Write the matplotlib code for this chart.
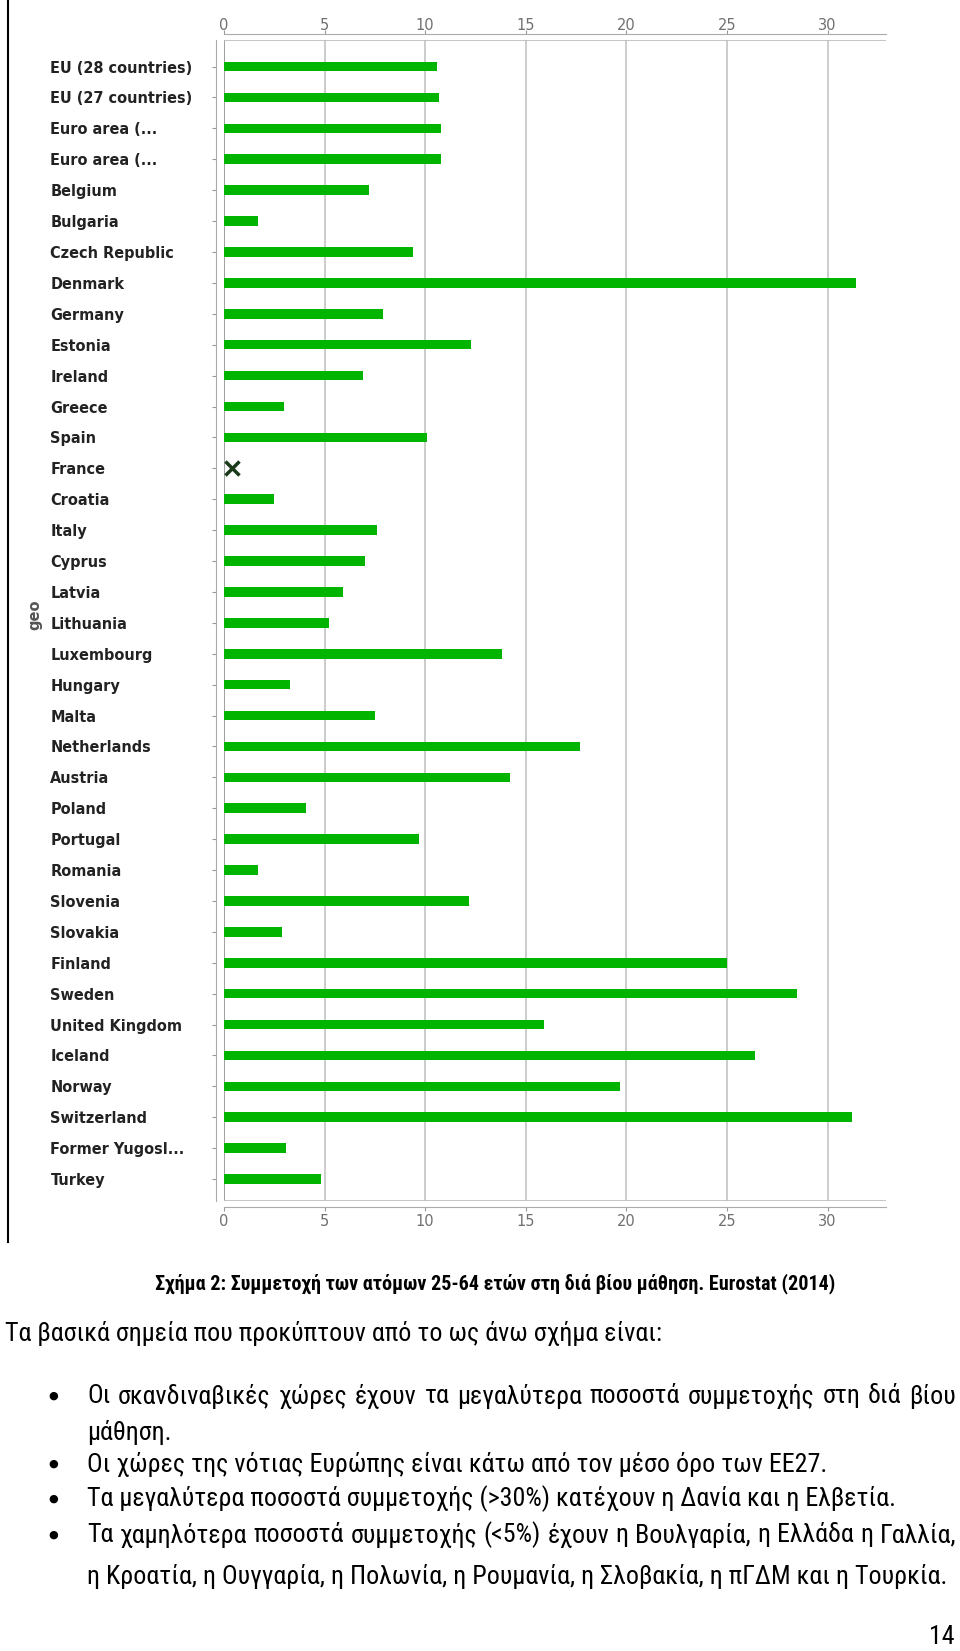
import numpy as np
import matplotlib
matplotlib.use("Agg")
import matplotlib.pyplot as plt
from matplotlib.lines import Line2D
from matplotlib import font_manager
from matplotlib.transforms import ScaledTranslation

# data (% of 25-64 year olds in lifelong learning, Eurostat 2014)
countries = ["EU (28 countries)", "EU (27 countries)", "Euro area (...", "Euro area (...",
             "Belgium", "Bulgaria", "Czech Republic", "Denmark", "Germany", "Estonia",
             "Ireland", "Greece", "Spain", "France", "Croatia", "Italy", "Cyprus", "Latvia",
             "Lithuania", "Luxembourg", "Hungary", "Malta", "Netherlands", "Austria",
             "Poland", "Portugal", "Romania", "Slovenia", "Slovakia", "Finland", "Sweden",
             "United Kingdom", "Iceland", "Norway", "Switzerland", "Former Yugosl...", "Turkey"]
values = [10.6, 10.7, 10.8, 10.8, 7.2, 1.7, 9.4, 31.4, 7.9, 12.3,
          6.9, 3.0, 10.1, np.nan, 2.5, 7.6, 7.0, 5.9,
          5.2, 13.8, 3.3, 7.5, 17.7, 14.2,
          4.1, 9.7, 1.7, 12.2, 2.9, 25.0, 28.5,
          15.9, 26.4, 19.7, 31.2, 3.1, 4.8]
missing = ["France"]
xticks = [0, 5, 10, 15, 20, 25, 30]

caption = "Σχήμα 2: Συμμετοχή των ατόμων 25-64 ετών στη διά βίου μάθηση. Eurostat (2014)"
intro = "Τα βασικά σημεία που προκύπτουν από το ως άνω σχήμα είναι:"
bullets = [
    ["Οι σκανδιναβικές χώρες έχουν τα μεγαλύτερα ποσοστά συμμετοχής στη διά βίου", "μάθηση."],
    ["Οι χώρες της νότιας Ευρώπης είναι κάτω από τον μέσο όρο των ΕΕ27."],
    ["Τα μεγαλύτερα ποσοστά συμμετοχής (>30%) κατέχουν η Δανία και η Ελβετία."],
    ["Τα χαμηλότερα ποσοστά συμμετοχής (<5%) έχουν η Βουλγαρία, η Ελλάδα η Γαλλία,",
     "η Κροατία, η Ουγγαρία, η Πολωνία, η Ρουμανία, η Σλοβακία, η πΓΔΜ και η Τουρκία."],
]

# pick a narrow font if one is around (the page uses Calibri)
names = {f.name for f in font_manager.fontManager.ttflist}
body_font = "DejaVu Sans"
for cand in ["Liberation Sans Narrow", "Roboto Condensed", "Open Sans Condensed",
             "Noto Sans Condensed", "DejaVu Sans Condensed", "Liberation Sans"]:
    if cand in names:
        body_font = cand
        break
fam = [body_font, "DejaVu Sans"]

W, H = 960, 1651
fig = plt.figure(figsize=(W / 100, H / 100), dpi=100)
renderer = fig.canvas.get_renderer()
ax = fig.add_axes([224 / W, 1 - 1201 / H, 662 / W, 1161 / H])


def width_of(txt, size, **kw):
    t = fig.text(0, 0, txt, fontsize=size, **kw)
    w = t.get_window_extent(renderer).width
    t.remove()
    return w


def fit_size(txt, target, **kw):
    return 20 * target / width_of(txt, 20, **kw)


# spines first: moving them resets the ticks
for s in ["top", "bottom"]:
    ax.spines[s].set_position(("outward", 4))
    ax.spines[s].set_color("#aaaaaa")
ax.spines["left"].set_position(("outward", 6))
ax.spines["left"].set_color("#aaaaaa")
ax.spines["right"].set_visible(False)

ypos = np.arange(len(countries))
vals = np.array(values, dtype=float)
ax.barh(ypos, np.nan_to_num(vals), height=0.31, color="#00b400", zorder=3)
for c in missing:
    i = countries.index(c)
    ax.plot(0.4, i, marker="x", color="#1a3a1a", ms=10, mew=2.5, zorder=4)

ax.set_xlim(0, 32.9)
ax.set_ylim(len(countries) - 0.29, -0.86)
ax.set_xticks(xticks)
ax.tick_params(axis="x", top=True, labeltop=True, bottom=True, labelbottom=True,
               length=3, color="#999999", labelcolor="#707070", labelsize=10.5, pad=2)
ax.tick_params(axis="y", pad=(218 - 52.7 - 4.2) * 0.72, length=3, color="#999999")

lab_size = fit_size("EU (28 countries)", 142, fontweight="bold", family="DejaVu Sans")
ax.set_yticks(ypos)
ax.set_yticklabels(countries, fontsize=lab_size, fontweight="bold", color="#222222",
                   family="DejaVu Sans")
for t in ax.get_yticklabels():
    t.set_ha("left")

# top numbers sit a little closer to their axis line
for tk in ax.xaxis.get_major_ticks():
    tk.label2.set_transform(tk.label2.get_transform() +
                            ScaledTranslation(0, -4 / 72, fig.dpi_scale_trans))

ax.grid(axis="x", color="#c4c4c4", lw=1.2, zorder=0)
ax.set_ylabel("geo", fontsize=10.5, fontweight="bold", color="#555555")
ax.yaxis.set_label_coords(-0.274, 0.505)

ax.axvline(0, color="#999999", lw=1.2, zorder=2)
ax.axhline(ax.get_ylim()[1], color="#bbbbbb", lw=1.2)
ax.axhline(ax.get_ylim()[0], color="#bbbbbb", lw=1.2)

# black rule at the left edge of the page
fig.add_artist(Line2D([8 / W, 8 / W], [1, 1 - 1242 / H], color="black", lw=1.5))


def fy(y):
    return 1 - y / H


cap_size = fit_size(caption, 680, fontweight="bold", family=fam)
fig.text(495 / W, fy(1284), caption, ha="center", va="center", fontsize=cap_size,
         fontweight="bold", family=fam)

body = (fit_size(bullets[1][0], 716, family=fam) + fit_size(bullets[2][0], 800, family=fam)
        + fit_size(intro, 685, family=fam) + fit_size(bullets[3][1], 860, family=fam)) / 4
fig.text(5 / W, fy(1333), intro, ha="left", va="center", fontsize=body, family=fam)


def justify(line, x0, x1, y, size):
    words = line.split()
    arts = [fig.text(0, fy(y), w, ha="left", va="center", fontsize=size, family=fam)
            for w in words]
    widths = [a.get_window_extent(renderer).width for a in arts]
    gap = (x1 - x0 - sum(widths)) / (len(words) - 1)
    x = x0
    for a, w in zip(arts, widths):
        a.set_x(x / W)
        x += w + gap


line_y = [[1396, 1432], [1464], [1499], [1535, 1576]]
for b, ys in zip(bullets, line_y):
    fig.text(53 / W, fy(ys[0]), "\u25cf", ha="center", va="center", fontsize=8,
             family="DejaVu Sans")
    for k, (txt, y) in enumerate(zip(b, ys)):
        if k == 0 and len(b) > 1:
            justify(txt, 87, 956, y, body)
        else:
            fig.text(87 / W, fy(y), txt, ha="left", va="center", fontsize=body, family=fam)

fig.text(942 / W, fy(1637), "14", ha="center", va="center", fontsize=body, family=fam)

fig.savefig("out.png", dpi=100, facecolor="white")
